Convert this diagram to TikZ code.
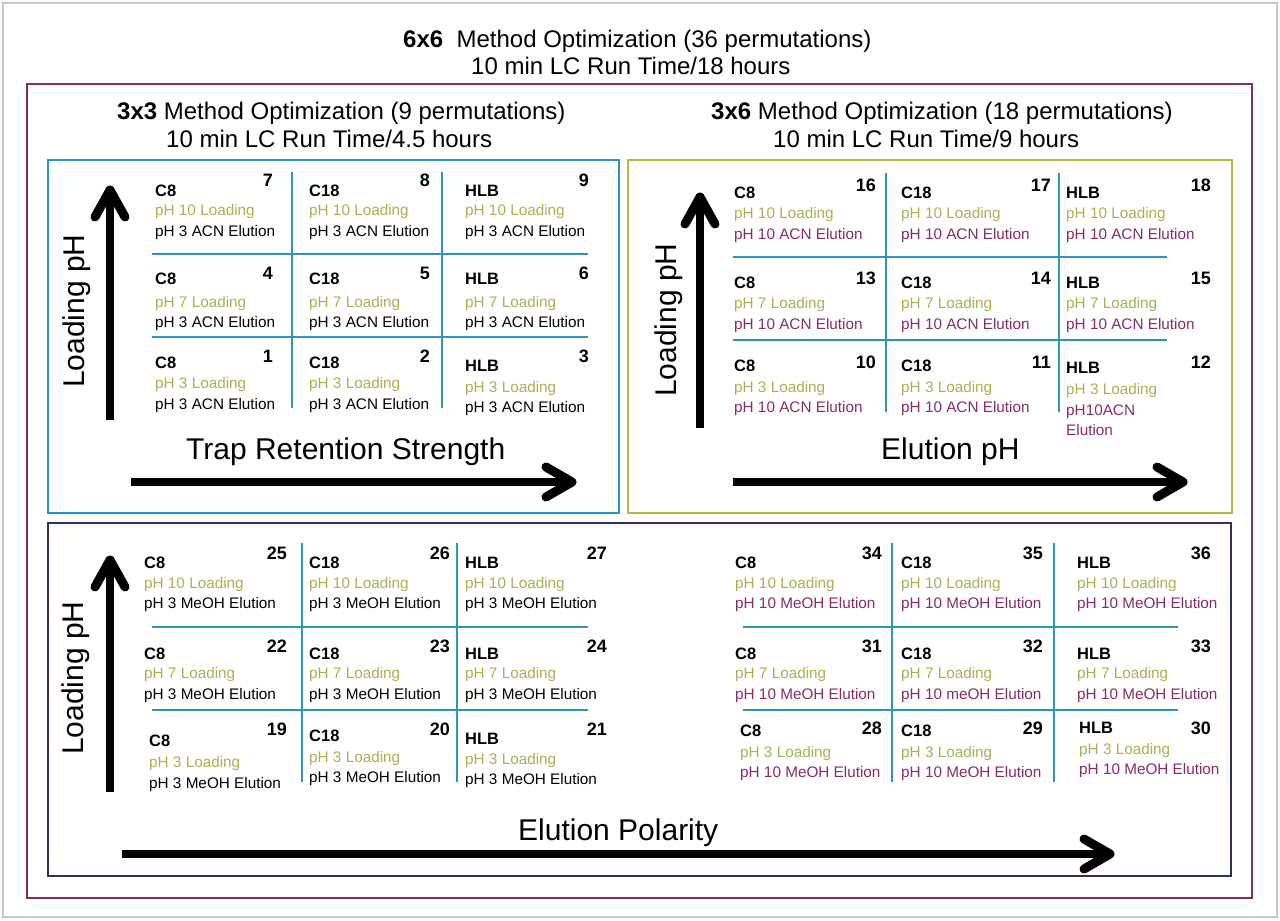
\documentclass[tikz,border=0pt]{standalone}
\usepackage{fontspec}
\setmainfont{Liberation Sans}
\definecolor{borderg}{RGB}{200,200,200}
\definecolor{maroonbox}{RGB}{140,40,92}
\definecolor{bluebox}{RGB}{38,148,198}
\definecolor{greenbox}{RGB}{168,190,70}
\definecolor{navybox}{RGB}{44,50,96}
\definecolor{gridblue}{RGB}{45,148,190}
\definecolor{loadgreen}{RGB}{160,182,84}
\definecolor{elumaroon}{RGB}{135,45,100}
\newcommand\myfs[1]{\fontsize{#1}{#1}\selectfont}
\begin{document}
\begin{tikzpicture}[x=1pt,y=-1pt,
  ttl/.style={font=\myfs{24}, anchor=base west, inner sep=0},
  axlab/.style={font=\myfs{30}, inner sep=0},
  nm/.style={font=\bfseries\myfs{16.5}, anchor=base west, inner sep=0},
  num/.style={font=\bfseries\myfs{18}, anchor=base east, inner sep=0},
  ld/.style={font=\myfs{15.3}, text=loadgreen, anchor=base west, inner sep=0},
  el/.style={font=\myfs{15.3}, anchor=base west, inner sep=0},
  frame/.style={line width=2.6pt},
  gridl/.style={draw=gridblue, line width=1.6pt},
  shaft/.style={line width=7.5pt},
  chev/.style={line width=9pt, line cap=round, line join=round}
]
\useasboundingbox (0,0) rectangle (1280,921);
\fill[white] (0,0) rectangle (1280,921);
% outer frames
\draw[borderg, line width=1.5pt] (3,3) rectangle (1277,917);
\draw[frame, maroonbox] (27,84) rectangle (1252,898);
\draw[frame, bluebox] (48,160) rectangle (619,513);
\draw[frame, greenbox] (628,160) rectangle (1232,513);
\draw[frame, navybox] (48,523) rectangle (1231,876);
% titles
\node[ttl] (t1) at (403,47) {\textbf{6x6}\ \ Method Optimization (36 permutations)};
\node[ttl] (t2) at (471,74) {10 min LC Run Time/18 hours};
\node[ttl] (s1) at (117,119) {\textbf{3x3} Method Optimization (9 permutations)};
\node[ttl] (s2) at (166,147) {10 min LC Run Time/4.5 hours};
\node[ttl] (s3) at (711,119) {\textbf{3x6} Method Optimization (18 permutations)};
\node[ttl] (s4) at (773,147) {10 min LC Run Time/9 hours};
% grids
\draw[gridl] (292,172) -- (292,408) (442,172) -- (442,408) (152,254) -- (588,254) (152,337) -- (588,337);
\draw[gridl] (886,173) -- (886,412) (1059,173) -- (1059,412) (733,257) -- (1167,257) (733,340) -- (1167,340);
\draw[gridl] (302,543) -- (302,782) (457,543) -- (457,782) (152,627) -- (588,627) (152,710) -- (588,710);
\draw[gridl] (892,543) -- (892,782) (1054,543) -- (1054,782) (743,627) -- (1178,627) (743,710) -- (1178,710);
% axis arrows
\coordinate (a1s) at (110,420); \coordinate (a1e) at (110,190);
\coordinate (a2s) at (131,482); \coordinate (a2e) at (572,482);
\coordinate (a3s) at (700,428); \coordinate (a3e) at (700,197);
\coordinate (a4s) at (733,482); \coordinate (a4e) at (1183,482);
\coordinate (a5s) at (110,792); \coordinate (a5e) at (110,560);
\coordinate (a6s) at (122,854); \coordinate (a6e) at (1110,854);
\foreach \s in {1,3,5} {
  \draw[shaft] (a\s s) -- ([yshift=3pt]a\s e);
  \draw[chev] ([shift={(-15,27)}]a\s e) -- (a\s e) -- ([shift={(15,27)}]a\s e);
}
\foreach \s in {2,4,6} {
  \draw[shaft] (a\s s) -- ([xshift=-3pt]a\s e);
  \draw[chev] ([shift={(-26,-15)}]a\s e) -- (a\s e) -- ([shift={(-26,15)}]a\s e);
}
% axis labels
\node[axlab, rotate=90] (l1) at (77,311) {Loading pH};
\node[axlab, rotate=90] (l2) at (669,320) {Loading pH};
\node[axlab, rotate=90] (l3) at (76,678) {Loading pH};
\node[axlab, anchor=base west] (x1) at (186,459) {Trap Retention Strength};
\node[axlab, anchor=base west] (x2) at (881,459) {Elution pH};
\node[axlab, anchor=base west] (x3) at (518,840) {Elution Polarity};
% cells
\foreach \id/\x/\xr/\yn/\yu/\nm/\lt/\yg/\ye/\et/\ec in {
 7/155/273/190/180/C8/pH 10 Loading/210/231/pH 3 ACN Elution/black,
 8/309/430/190/180/C18/pH 10 Loading/210/231/pH 3 ACN Elution/black,
 9/465/589/190/180/HLB/pH 10 Loading/210/231/pH 3 ACN Elution/black,
 4/155/273/278/273/C8/pH 7 Loading/302/322/pH 3 ACN Elution/black,
 5/309/430/278/273/C18/pH 7 Loading/302/322/pH 3 ACN Elution/black,
 6/465/589/278/273/HLB/pH 7 Loading/302/322/pH 3 ACN Elution/black,
 1/155/273/362/356/C8/pH 3 Loading/383/404/pH 3 ACN Elution/black,
 2/309/430/362/356/C18/pH 3 Loading/383/404/pH 3 ACN Elution/black,
 3/465/589/365/356/HLB/pH 3 Loading/387/407/pH 3 ACN Elution/black,
 16/734/876/192/185/C8/pH 10 Loading/213/234/pH 10 ACN Elution/elumaroon,
 17/901/1051/192/185/C18/pH 10 Loading/213/234/pH 10 ACN Elution/elumaroon,
 18/1066/1211/192/185/HLB/pH 10 Loading/213/234/pH 10 ACN Elution/elumaroon,
 13/734/876/282/278/C8/pH 7 Loading/303/324/pH 10 ACN Elution/elumaroon,
 14/901/1051/282/278/C18/pH 7 Loading/303/324/pH 10 ACN Elution/elumaroon,
 15/1066/1211/282/278/HLB/pH 7 Loading/303/324/pH 10 ACN Elution/elumaroon,
 10/734/876/365/362/C8/pH 3 Loading/387/407/pH 10 ACN Elution/elumaroon,
 11/901/1051/365/362/C18/pH 3 Loading/387/407/pH 10 ACN Elution/elumaroon,
 12/1066/1211/367/362/HLB/pH 3 Loading/389/410/pH10ACN/elumaroon,
 25/144/287/562/553/C8/pH 10 Loading/583/603/pH 3 MeOH Elution/black,
 26/309/450/562/553/C18/pH 10 Loading/583/603/pH 3 MeOH Elution/black,
 27/465/607/562/553/HLB/pH 10 Loading/583/603/pH 3 MeOH Elution/black,
 22/144/287/653/646/C8/pH 7 Loading/673/694/pH 3 MeOH Elution/black,
 23/309/450/653/646/C18/pH 7 Loading/673/694/pH 3 MeOH Elution/black,
 24/465/607/653/646/HLB/pH 7 Loading/673/694/pH 3 MeOH Elution/black,
 19/149/287/740/729/C8/pH 3 Loading/762/783/pH 3 MeOH Elution/black,
 20/309/450/735/729/C18/pH 3 Loading/757/777/pH 3 MeOH Elution/black,
 21/465/607/738/729/HLB/pH 3 Loading/759/779/pH 3 MeOH Elution/black,
 34/735/882/562/553/C8/pH 10 Loading/583/603/pH 10 MeOH Elution/elumaroon,
 35/901/1043/562/553/C18/pH 10 Loading/583/603/pH 10 MeOH Elution/elumaroon,
 36/1077/1211/562/553/HLB/pH 10 Loading/583/603/pH 10 MeOH Elution/elumaroon,
 31/735/882/653/646/C8/pH 7 Loading/673/694/pH 10 MeOH Elution/elumaroon,
 32/901/1043/653/646/C18/pH 7 Loading/673/694/pH 10 meOH Elution/elumaroon,
 33/1077/1211/653/646/HLB/pH 7 Loading/673/694/pH 10 MeOH Elution/elumaroon,
 28/740/882/730/728/C8/pH 3 Loading/752/772/pH 10 MeOH Elution/elumaroon,
 29/901/1043/730/728/C18/pH 3 Loading/752/772/pH 10 MeOH Elution/elumaroon,
 30/1079/1211/727/728/HLB/pH 3 Loading/749/769/pH 10 MeOH Elution/elumaroon}
{
 \node[nm] (nm\id) at (\x,\yn+6) {\nm};
 \node[num] (nu\id) at (\xr,\yu+6.5) {\id};
 \node[ld] (ld\id) at (\x,\yg+5) {\lt};
 \node[el, text=\ec] (el\id) at (\x,\ye+5) {\et};
}
\node[el, text=elumaroon] (el12b) at (1066,435) {Elution};
\end{tikzpicture}
\end{document}
